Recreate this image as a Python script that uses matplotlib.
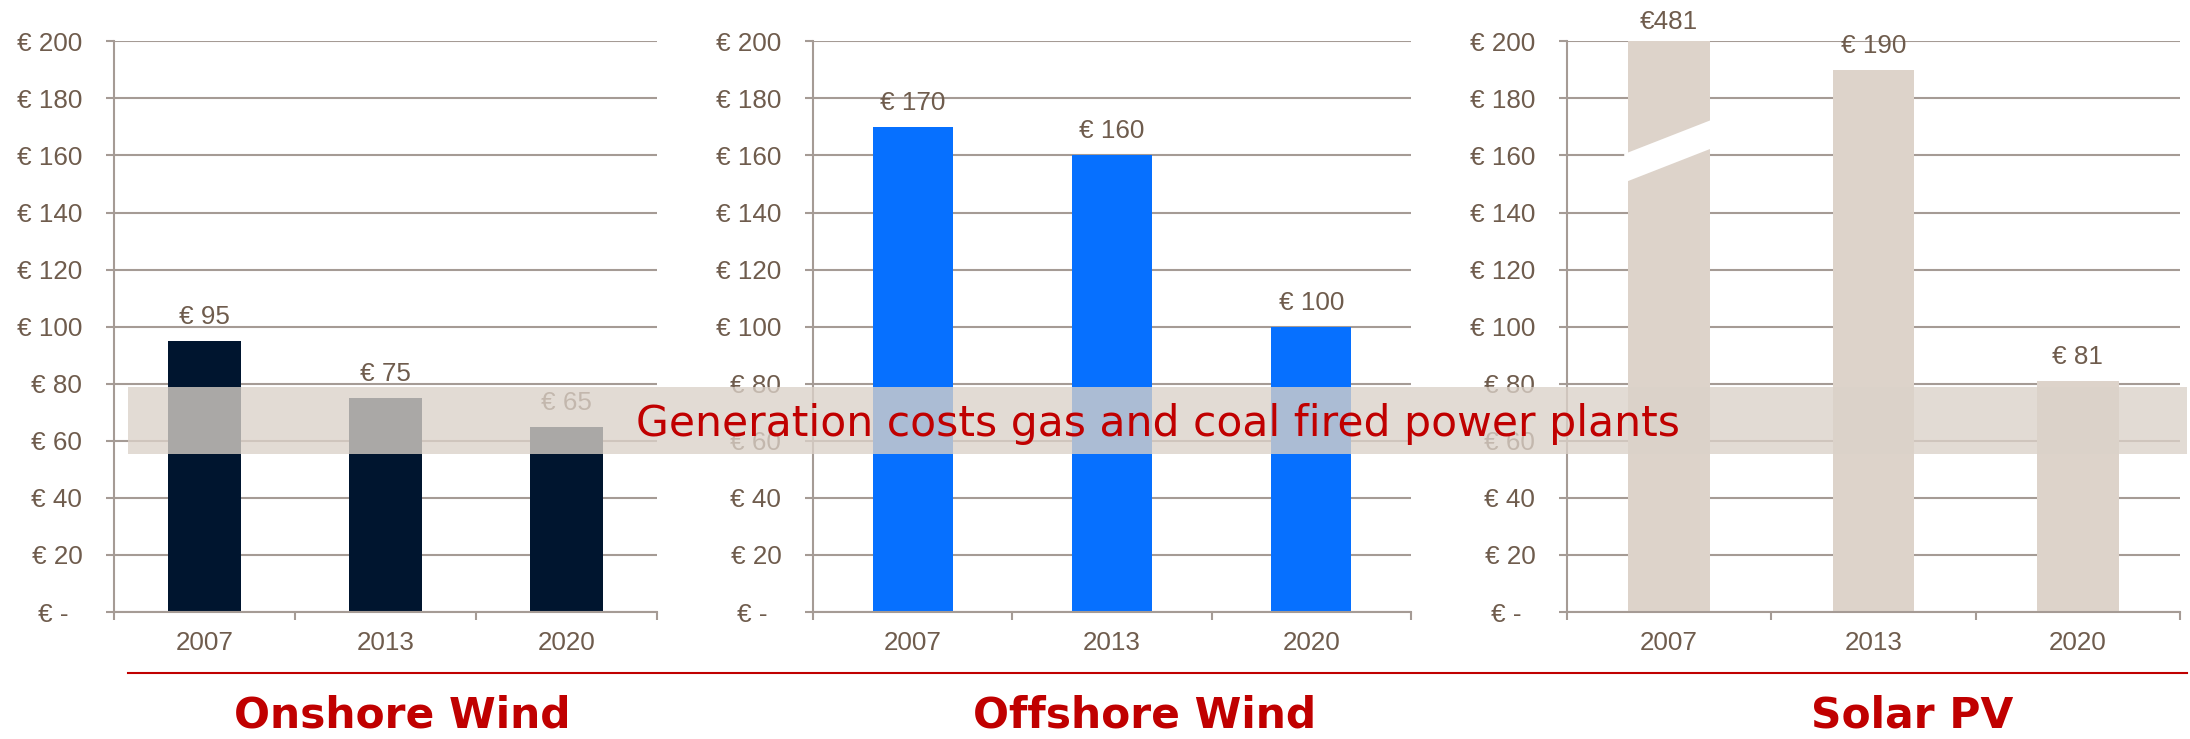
import matplotlib
matplotlib.use('Agg')
import matplotlib.pyplot as plt
from matplotlib.patches import Rectangle, Polygon
from matplotlib.lines import Line2D
from matplotlib.transforms import blended_transform_factory, ScaledTranslation

# ---------------- data ----------------
years = ['2007', '2013', '2020']
onshore = [95, 75, 65]
offshore = [170, 160, 100]
solar = [481, 190, 81]
panel_titles = ['Onshore Wind', 'Offshore Wind', 'Solar PV']
bar_colors = ['#00152F', '#0670FF', '#DDD3CA']
band_low, band_high = 55.5, 79.0
band_text = 'Generation costs gas and coal fired power plants'
yticks = list(range(0, 201, 20))
ytick_labels = ['€ -'] + [f'€ {v}' for v in yticks[1:]]

# ---------------- style ----------------
W, H = 2190, 739
DPI = 100
TXT = '#6F5C4D'
GRID = '#A59B95'
RED = '#C00000'
LBL_FONT = 'Liberation Sans'
TITLE_FONT = 'DejaVu Sans'
FS = 18.7

fig = plt.figure(figsize=(W / DPI, H / DPI), dpi=DPI)

top_px, bot_px = 41.3, 612.0
panels_px = [(114, 657), (813, 1411), (1567, 2180)]
title_cx = [402, 1145, 1912]


def rect(x0, x1):
    return [x0 / W, (H - bot_px) / H, (x1 - x0) / W, (bot_px - top_px) / H]


series = [onshore, offshore, solar]
axes = []
for i, (vals, (x0, x1)) in enumerate(zip(series, panels_px)):
    ax = fig.add_axes(rect(x0, x1))
    axes.append(ax)
    ax.set_xlim(-0.5, 2.5)
    ax.set_ylim(0, 200)
    ax.set_axisbelow(True)
    x = list(range(len(years)))
    ax.bar(x, vals, width=0.4, color=bar_colors[i], zorder=2, linewidth=0)

    ymax = ax.get_ylim()[1]
    for xi, v in zip(x, vals):
        if v > ymax:
            lab = f'€{v}'
            ax.annotate(lab, (xi, ymax), xytext=(0, 8.6), textcoords='offset points',
                        ha='center', va='baseline', fontsize=FS, color=TXT,
                        family=LBL_FONT, annotation_clip=False)
            # axis break mark across the clipped bar
            y0, th, slope = 150.5, 10.0, 28.0
            xl, xr = xi - 0.22, xi + 0.21
            poly = Polygon([(xl, y0), (xr, y0 + slope * (xr - xl)),
                            (xr, y0 + slope * (xr - xl) + th), (xl, y0 + th)],
                           closed=True, facecolor='white', edgecolor='none', zorder=3)
            ax.add_patch(poly)
        else:
            ax.annotate(f'€ {v}', (xi, v), xytext=(0, 12.2), textcoords='offset points',
                        ha='center', va='baseline', fontsize=FS, color=TXT,
                        family=LBL_FONT)

    # y axis
    ax.set_yticks(yticks)
    ax.set_yticklabels(ytick_labels)
    ax.yaxis.grid(True, color=GRID, linewidth=1.5)
    ax.tick_params(axis='y', length=5.8, width=1.5, color=GRID, pad=17,
                   labelsize=FS, labelcolor=TXT)
    # x axis
    ax.set_xticks([-0.5, 0.5, 1.5, 2.5])
    ax.set_xticklabels([])
    ax.set_xticks(x, minor=True)
    ax.set_xticklabels(years, minor=True)
    ax.tick_params(axis='x', which='major', length=5.8, width=1.5, color=GRID)
    ax.tick_params(axis='x', which='minor', length=0, pad=14,
                   labelsize=FS, labelcolor=TXT)
    for lab in ax.get_yticklabels() + ax.get_xticklabels(minor=True):
        lab.set_family(LBL_FONT)
    for s in ['top', 'right']:
        ax.spines[s].set_visible(False)
    for s in ['left', 'bottom']:
        ax.spines[s].set_color(GRID)
        ax.spines[s].set_linewidth(1.5)
    # zero label in accounting format sits a bit left
    zl = ax.get_yticklabels()[0]
    zl.set_transform(zl.get_transform() + ScaledTranslation(-14 / DPI, 0, fig.dpi_scale_trans))

    fig.text(title_cx[i] / W, (H - 727) / H, panel_titles[i], ha='center', va='baseline',
             fontsize=30.5, fontweight='bold', color=RED, family=TITLE_FONT)

# band of fossil generation costs across all panels
btr = blended_transform_factory(fig.transFigure, axes[0].transData)
band_x0, band_x1 = 128 / W, 2187 / W
fig.add_artist(Rectangle((band_x0, band_low), band_x1 - band_x0, band_high - band_low,
                         transform=btr, facecolor='#DBD2C9', alpha=0.78,
                         edgecolor='none', zorder=5))
fig.text(1158 / W, (H - 436) / H, band_text, ha='center', va='baseline',
         fontsize=30.6, color=RED, family=TITLE_FONT, zorder=6)

# red separator line
fig.add_artist(Line2D([band_x0, band_x1], [(H - 673) / H] * 2, transform=fig.transFigure,
                      color=RED, linewidth=1.5, zorder=5))

fig.savefig('out.png', dpi=DPI)
